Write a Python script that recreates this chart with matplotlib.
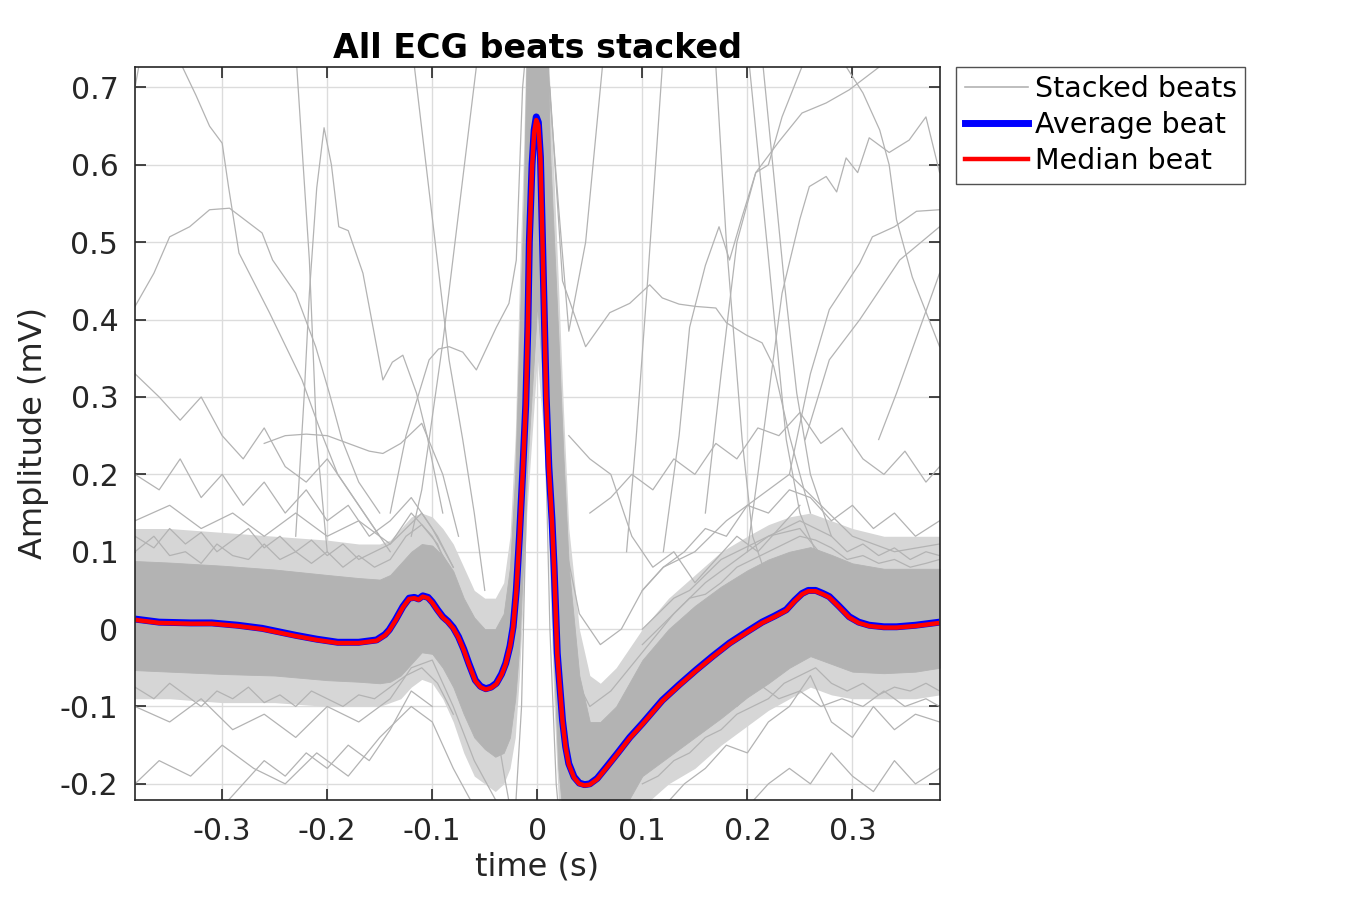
import numpy as np
import matplotlib.pyplot as plt
from matplotlib.lines import Line2D

# average and median beat (time in s, amplitude in mV)
avg_t = [-0.383, -0.36, -0.33, -0.31, -0.285, -0.262, -0.23, -0.21, -0.19, -0.17,
         -0.153, -0.145, -0.141, -0.135, -0.128, -0.122, -0.117, -0.113, -0.109, -0.104,
         -0.1, -0.095, -0.09, -0.085, -0.08, -0.075, -0.07, -0.065, -0.059, -0.054,
         -0.049, -0.044, -0.039, -0.034, -0.03, -0.026, -0.023, -0.02, -0.017, -0.014,
         -0.011, -0.009, -0.0076, -0.005, -0.003, -0.001, 0.001, 0.003, 0.005, 0.0085,
         0.011, 0.014, 0.016, 0.019, 0.024, 0.027, 0.03, 0.035, 0.04, 0.045,
         0.05, 0.057, 0.066, 0.076, 0.088, 0.1, 0.119, 0.135, 0.151, 0.167,
         0.183, 0.2, 0.214, 0.226, 0.237, 0.245, 0.252, 0.258, 0.265, 0.272,
         0.278, 0.287, 0.297, 0.306, 0.316, 0.33, 0.342, 0.36, 0.383]
avg_v = [0.013, 0.009, 0.008, 0.008, 0.005, 0.001, -0.008, -0.013, -0.017, -0.017,
         -0.014, -0.007, -0.001, 0.012, 0.029, 0.040, 0.041, 0.039, 0.043, 0.041,
         0.035, 0.025, 0.016, 0.010, 0.002, -0.010, -0.026, -0.045, -0.066, -0.074,
         -0.077, -0.075, -0.070, -0.058, -0.044, -0.022, 0.003, 0.05, 0.12, 0.2,
         0.29, 0.39, 0.5, 0.6, 0.645, 0.662, 0.655, 0.61, 0.5, 0.3,
         0.21, 0.141, 0.08, -0.031, -0.118, -0.152, -0.174, -0.191, -0.199, -0.201,
         -0.2, -0.193, -0.178, -0.161, -0.14, -0.122, -0.092, -0.072, -0.053, -0.035,
         -0.018, -0.003, 0.009, 0.017, 0.025, 0.037, 0.046, 0.05, 0.05, 0.046,
         0.042, 0.03, 0.016, 0.009, 0.005, 0.003, 0.003, 0.005, 0.009]
med_v = [0.012, 0.008, 0.007, 0.007, 0.004, 0.0, -0.009, -0.014, -0.018, -0.018,
         -0.015, -0.008, -0.002, 0.011, 0.028, 0.039, 0.040, 0.038, 0.042, 0.040,
         0.034, 0.024, 0.015, 0.009, 0.001, -0.011, -0.027, -0.046, -0.067, -0.075,
         -0.078, -0.076, -0.071, -0.059, -0.045, -0.023, 0.002, 0.048, 0.118, 0.198,
         0.288, 0.388, 0.498, 0.597, 0.642, 0.658, 0.651, 0.607, 0.497, 0.298,
         0.208, 0.139, 0.079, -0.032, -0.119, -0.153, -0.175, -0.192, -0.2, -0.202,
         -0.201, -0.194, -0.179, -0.162, -0.141, -0.123, -0.093, -0.073, -0.054, -0.036,
         -0.019, -0.004, 0.008, 0.016, 0.024, 0.036, 0.045, 0.049, 0.049, 0.045,
         0.041, 0.029, 0.015, 0.008, 0.004, 0.002, 0.002, 0.004, 0.008]

# dense core of the stacked beats (upper / lower edge) and its looser fringe
band_t = [-0.383, -0.35, -0.3, -0.25, -0.2, -0.17, -0.15, -0.14, -0.13, -0.12,
          -0.11, -0.1, -0.09, -0.08, -0.07, -0.06, -0.05, -0.04, -0.032, -0.026,
          -0.021, -0.017, -0.013, -0.01, 0.0, 0.009, 0.012, 0.016, 0.02, 0.025,
          0.03, 0.04, 0.05, 0.06, 0.075, 0.1, 0.125, 0.15, 0.175, 0.2,
          0.22, 0.24, 0.26, 0.28, 0.3, 0.33, 0.36, 0.383]
band_hi = [0.088, 0.086, 0.082, 0.077, 0.07, 0.066, 0.064, 0.07, 0.085, 0.1,
           0.11, 0.108, 0.095, 0.075, 0.04, 0.015, 0.0, 0.0, 0.02, 0.08,
           0.2, 0.38, 0.55, 0.75, 0.8, 0.8, 0.62, 0.5, 0.38, 0.22,
           0.08, -0.06, -0.12, -0.12, -0.1, -0.04, 0.0, 0.03, 0.055, 0.076,
           0.09, 0.1, 0.106, 0.096, 0.085, 0.078, 0.078, 0.078]
band_lo = [-0.053, -0.055, -0.058, -0.06, -0.066, -0.068, -0.07, -0.068, -0.06, -0.045,
           -0.03, -0.032, -0.05, -0.075, -0.11, -0.14, -0.155, -0.165, -0.16, -0.14,
           -0.09, -0.02, 0.1, 0.2, 0.42, 0.25, 0.1, -0.05, -0.18, -0.25,
           -0.25, -0.25, -0.25, -0.25, -0.25, -0.19, -0.165, -0.14, -0.115, -0.088,
           -0.07, -0.05, -0.035, -0.045, -0.055, -0.057, -0.055, -0.05]
fringe_hi = [0.13, 0.13, 0.125, 0.12, 0.115, 0.11, 0.11, 0.115, 0.13, 0.145,
             0.15, 0.145, 0.13, 0.11, 0.08, 0.05, 0.04, 0.04, 0.06, 0.12,
             0.25, 0.45, 0.62, 0.8, 0.8, 0.8, 0.7, 0.58, 0.45, 0.28,
             0.13, 0.0, -0.06, -0.07, -0.05, 0.0, 0.04, 0.07, 0.1, 0.12,
             0.135, 0.145, 0.15, 0.14, 0.13, 0.12, 0.12, 0.12]
fringe_lo = [-0.09, -0.09, -0.095, -0.095, -0.1, -0.1, -0.1, -0.095, -0.09, -0.075,
             -0.065, -0.07, -0.09, -0.12, -0.16, -0.19, -0.2, -0.21, -0.2, -0.18,
             -0.14, -0.06, 0.05, 0.15, 0.35, 0.2, 0.05, -0.1, -0.22, -0.25,
             -0.25, -0.25, -0.25, -0.25, -0.25, -0.23, -0.2, -0.18, -0.15, -0.125,
             -0.105, -0.09, -0.075, -0.085, -0.09, -0.09, -0.09, -0.085]

# individual stacked beats that stray outside the core
outlier_t = [
    [-0.383, -0.375],
    [-0.345, -0.338, -0.325, -0.312, -0.30, -0.294, -0.284, -0.255, -0.224, -0.208, -0.19, -0.17, -0.15],
    [-0.383, -0.365, -0.35, -0.331, -0.312, -0.293, -0.262, -0.252, -0.23, -0.211, -0.198, -0.186, -0.17, -0.15],
    [-0.23, -0.222, -0.217, -0.21, -0.203, -0.196, -0.189, -0.18, -0.166, -0.147, -0.138, -0.128, -0.115, -0.105, -0.09],
    [-0.232, -0.229, -0.217, -0.21, -0.2],
    [-0.12, -0.117, -0.084, -0.071, -0.06, -0.05],
    [-0.12, -0.11, -0.103, -0.09, -0.058, -0.055],
    [-0.14, -0.125, -0.103, -0.094, -0.084, -0.071, -0.058, -0.039, -0.027, -0.02, -0.014, -0.01],
    [-0.005, 0.0, 0.01, 0.02, 0.03, 0.046, 0.062, 0.066],
    [-0.006, 0.0, 0.012, 0.024, 0.046, 0.069, 0.088, 0.107, 0.119, 0.135, 0.151, 0.17, 0.18, 0.199, 0.214, 0.225, 0.24, 0.26],
    [0.085, 0.094, 0.105, 0.119, 0.125],
    [0.165, 0.17, 0.18, 0.195, 0.205, 0.215],
    [0.12, 0.135, 0.145, 0.16, 0.173, 0.183, 0.195, 0.208, 0.22, 0.233, 0.252, 0.26],
    [0.198, 0.202, 0.22, 0.237, 0.25, 0.265],
    [0.21, 0.215, 0.235, 0.247, 0.26, 0.28],
    [0.2, 0.215, 0.233, 0.25, 0.259, 0.275, 0.285, 0.294, 0.305, 0.316, 0.335, 0.354, 0.37, 0.383],
    [0.29, 0.294, 0.31, 0.326, 0.335, 0.342, 0.357, 0.383],
    [0.16, 0.175, 0.19, 0.208, 0.23, 0.252, 0.275, 0.297, 0.326, 0.335],
    [0.24, 0.26, 0.278, 0.307, 0.319, 0.34, 0.361, 0.383],
    [0.255, 0.278, 0.307, 0.345, 0.383],
    [0.325, 0.342, 0.383],
    [-0.383, -0.36, -0.34, -0.32, -0.3, -0.28, -0.26, -0.24, -0.22, -0.2, -0.18, -0.16, -0.14],
    [-0.383, -0.36, -0.34, -0.32, -0.3, -0.28, -0.26, -0.24, -0.22, -0.2, -0.18, -0.16, -0.14, -0.12, -0.1, -0.08],
    [-0.26, -0.24, -0.22, -0.2, -0.18, -0.16, -0.147, -0.13, -0.11, -0.09, -0.075],
    [-0.383, -0.35, -0.32, -0.29, -0.26, -0.23, -0.2, -0.17, -0.14, -0.12, -0.1, -0.08],
    [0.05, 0.07, 0.09, 0.11, 0.13, 0.15, 0.17, 0.19, 0.21, 0.23, 0.25, 0.27, 0.29, 0.31, 0.33, 0.35, 0.37, 0.383],
    [0.1, 0.12, 0.14, 0.16, 0.18, 0.2, 0.22, 0.24, 0.26, 0.28, 0.3, 0.32, 0.34, 0.36, 0.383],
    [0.03, 0.05, 0.07, 0.09, 0.11, 0.13, 0.15, 0.17, 0.19, 0.21, 0.23, 0.25],
    [0.015, 0.025, 0.035, 0.05, 0.07, 0.1, 0.13, 0.16, 0.19, 0.22, 0.25, 0.28, 0.31, 0.34, 0.383],
    [0.015, 0.025, 0.04, 0.06, 0.08, 0.1, 0.12, 0.15, 0.18, 0.21, 0.24, 0.27, 0.3, 0.34, 0.383],
    [-0.383, -0.35, -0.32, -0.29, -0.26, -0.23, -0.2, -0.17, -0.14, -0.12, -0.1, -0.08, -0.06, -0.04, -0.025],
    [-0.383, -0.36, -0.33, -0.3, -0.27, -0.24, -0.21, -0.18, -0.15, -0.12, -0.1, -0.08, -0.06],
    [-0.3, -0.28, -0.26, -0.24, -0.22, -0.2, -0.18, -0.16, -0.14, -0.12, -0.1],
    [0.12, 0.14, 0.16, 0.18, 0.2, 0.22, 0.24, 0.26, 0.28, 0.3, 0.32, 0.34, 0.36, 0.383],
    [0.2, 0.22, 0.24, 0.26, 0.28, 0.3, 0.32, 0.34, 0.36, 0.383],
    [0.15, 0.17, 0.19, 0.21, 0.23, 0.25, 0.27, 0.29, 0.31, 0.33, 0.35, 0.37, 0.383],
    [-0.06, -0.04, -0.03, -0.022, -0.015, -0.008, 0.0],
    [-0.005, 0.005, 0.012, 0.018, 0.022, 0.03],
    [-0.383, -0.365, -0.35, -0.335, -0.32, -0.305, -0.29, -0.275, -0.26, -0.245, -0.23,
     -0.215, -0.2, -0.185, -0.17, -0.155, -0.14, -0.125, -0.11, -0.095, -0.08],
    [-0.383, -0.365, -0.35, -0.335, -0.32, -0.305, -0.29, -0.275, -0.26, -0.245, -0.23,
     -0.215, -0.2, -0.185, -0.17, -0.155, -0.14, -0.125, -0.11, -0.095, -0.08],
    [-0.383, -0.365, -0.35, -0.335, -0.32, -0.305, -0.29, -0.275, -0.26, -0.245, -0.23,
     -0.215, -0.2, -0.185, -0.17, -0.155, -0.14, -0.125, -0.11, -0.095, -0.08],
    [0.1, 0.115, 0.13, 0.145, 0.16, 0.175, 0.19, 0.205, 0.22, 0.235,
     0.25, 0.265, 0.28, 0.295, 0.31, 0.325, 0.34, 0.355, 0.37, 0.383],
    [0.1, 0.115, 0.13, 0.145, 0.16, 0.175, 0.19, 0.205, 0.22, 0.235,
     0.25, 0.265, 0.28, 0.295, 0.31, 0.325, 0.34, 0.355, 0.37, 0.383],
    [0.1, 0.115, 0.13, 0.145, 0.16, 0.175, 0.19, 0.205, 0.22, 0.235,
     0.25, 0.265, 0.28, 0.295, 0.31, 0.325, 0.34, 0.355, 0.37, 0.383],
]
outlier_v = [
    [0.70, 0.76],
    [0.76, 0.727, 0.69, 0.65, 0.628, 0.572, 0.486, 0.409, 0.322, 0.262, 0.2, 0.16, 0.12],
    [0.417, 0.46, 0.507, 0.52, 0.542, 0.544, 0.512, 0.477, 0.434, 0.365, 0.305, 0.245, 0.19, 0.15],
    [0.12, 0.3, 0.434, 0.57, 0.648, 0.6, 0.52, 0.515, 0.46, 0.322, 0.345, 0.354, 0.305, 0.25, 0.15],
    [0.76, 0.727, 0.477, 0.245, 0.1],
    [0.76, 0.727, 0.348, 0.245, 0.15, 0.05],
    [0.12, 0.18, 0.245, 0.37, 0.727, 0.76],
    [0.15, 0.25, 0.348, 0.362, 0.365, 0.358, 0.335, 0.39, 0.421, 0.477, 0.7, 0.76],
    [0.5, 0.76, 0.727, 0.55, 0.385, 0.5, 0.727, 0.76],
    [0.45, 0.76, 0.7, 0.45, 0.365, 0.409, 0.421, 0.445, 0.428, 0.42, 0.417, 0.415, 0.396, 0.38, 0.37, 0.34, 0.25, 0.15],
    [0.1, 0.245, 0.45, 0.727, 0.8],
    [0.8, 0.727, 0.5, 0.245, 0.12, 0.08],
    [0.1, 0.25, 0.39, 0.47, 0.52, 0.477, 0.533, 0.59, 0.6, 0.662, 0.727, 0.76],
    [0.76, 0.727, 0.48, 0.245, 0.15, 0.1],
    [0.76, 0.727, 0.45, 0.305, 0.2, 0.12],
    [0.1, 0.25, 0.434, 0.53, 0.572, 0.585, 0.565, 0.609, 0.59, 0.635, 0.616, 0.632, 0.662, 0.59],
    [0.76, 0.727, 0.693, 0.645, 0.6, 0.529, 0.455, 0.365],
    [0.15, 0.33, 0.5, 0.59, 0.63, 0.667, 0.68, 0.697, 0.727, 0.76],
    [0.2, 0.33, 0.413, 0.473, 0.507, 0.52, 0.54, 0.542],
    [0.245, 0.348, 0.4, 0.477, 0.52],
    [0.245, 0.305, 0.46],
    [0.33, 0.3, 0.27, 0.3, 0.25, 0.22, 0.26, 0.21, 0.19, 0.22, 0.18, 0.14, 0.1],
    [0.2, 0.18, 0.22, 0.17, 0.2, 0.16, 0.19, 0.15, 0.18, 0.14, 0.16, 0.12, 0.14, 0.17, 0.13, 0.08],
    [0.24, 0.25, 0.252, 0.25, 0.24, 0.23, 0.227, 0.24, 0.266, 0.2, 0.12],
    [0.14, 0.16, 0.13, 0.15, 0.12, 0.15, 0.12, 0.14, 0.11, 0.15, 0.12, 0.07],
    [0.15, 0.17, 0.2, 0.18, 0.22, 0.2, 0.24, 0.22, 0.26, 0.25, 0.28, 0.24, 0.26, 0.22, 0.2, 0.23, 0.19, 0.21],
    [0.05, 0.08, 0.1, 0.13, 0.12, 0.16, 0.15, 0.18, 0.17, 0.14, 0.16, 0.13, 0.15, 0.12, 0.14],
    [0.25, 0.22, 0.2, 0.12, 0.08, 0.1, 0.06, 0.09, 0.12, 0.1, 0.13, 0.16],
    [0.3, 0.05, -0.06, -0.1, -0.08, -0.03, 0.02, 0.06, 0.09, 0.12, 0.13, 0.08, 0.06, 0.07, 0.05],
    [0.35, 0.12, 0.02, -0.02, 0.0, 0.05, 0.08, 0.1, 0.14, 0.17, 0.2, 0.16, 0.12, 0.1, 0.11],
    [-0.1, -0.12, -0.09, -0.13, -0.11, -0.14, -0.1, -0.12, -0.09, -0.05, -0.04, -0.1, -0.17, -0.22, -0.25],
    [-0.2, -0.17, -0.19, -0.15, -0.18, -0.2, -0.16, -0.19, -0.14, -0.1, -0.12, -0.18, -0.23],
    [-0.23, -0.2, -0.17, -0.19, -0.16, -0.18, -0.15, -0.17, -0.13, -0.08, -0.1],
    [-0.23, -0.2, -0.18, -0.15, -0.16, -0.12, -0.1, -0.06, -0.12, -0.14, -0.1, -0.13, -0.11, -0.12],
    [-0.23, -0.2, -0.18, -0.2, -0.16, -0.19, -0.21, -0.17, -0.2, -0.18],
    [-0.1, -0.08, -0.1, -0.07, -0.09, -0.08, -0.1, -0.09, -0.1, -0.08, -0.1, -0.09, -0.1],
    [-0.05, -0.12, -0.2, -0.26, -0.1, 0.3, 0.76],
    [0.76, 0.4, 0.0, -0.2, -0.26, -0.3],
    [0.12, 0.105, 0.13, 0.11, 0.125, 0.1, 0.115, 0.13, 0.105, 0.12, 0.1,
     0.115, 0.095, 0.11, 0.09, 0.1, 0.11, 0.13, 0.15, 0.12, 0.08],
    [0.1, 0.12, 0.095, 0.1, 0.085, 0.11, 0.095, 0.09, 0.11, 0.09, 0.1,
     0.085, 0.1, 0.08, 0.095, 0.08, 0.09, 0.12, 0.135, 0.11, 0.06],
    [-0.075, -0.09, -0.07, -0.085, -0.1, -0.08, -0.09, -0.075, -0.095, -0.085, -0.1,
     -0.08, -0.09, -0.1, -0.085, -0.09, -0.075, -0.06, -0.05, -0.07, -0.11],
    [0.0, 0.02, 0.04, 0.05, 0.07, 0.09, 0.1, 0.11, 0.12, 0.13,
     0.14, 0.13, 0.12, 0.1, 0.11, 0.095, 0.105, 0.09, 0.1, 0.095],
    [-0.2, -0.19, -0.17, -0.16, -0.14, -0.13, -0.11, -0.1, -0.09, -0.07,
     -0.06, -0.05, -0.07, -0.08, -0.07, -0.085, -0.075, -0.08, -0.07, -0.08],
    [-0.02, 0.0, 0.02, 0.04, 0.045, 0.06, 0.08, 0.09, 0.1, 0.11,
     0.12, 0.115, 0.105, 0.09, 0.095, 0.085, 0.09, 0.08, 0.085, 0.09],
]

x_ticks = [-0.3, -0.2, -0.1, 0, 0.1, 0.2, 0.3]
x_labels = ['-0.3', '-0.2', '-0.1', '0', '0.1', '0.2', '0.3']
y_ticks = [-0.2, -0.1, 0, 0.1, 0.2, 0.3, 0.4, 0.5, 0.6, 0.7]
y_labels = ['-0.2', '-0.1', '0', '0.1', '0.2', '0.3', '0.4', '0.5', '0.6', '0.7']

grey = '#b3b3b3'
ink = '#262626'

fig = plt.figure(figsize=(13.5, 9), dpi=100)
ax = fig.add_axes([0.1, 0.111, 0.596, 0.815])

ax.fill_between(band_t, fringe_lo, fringe_hi, color='#d6d6d6', lw=0, zorder=1.5)
ax.fill_between(band_t, band_lo, band_hi, color=grey, lw=0.6, zorder=2)
for t, v in zip(outlier_t, outlier_v):
    ax.plot(t, v, color=grey, lw=0.9, zorder=2)
ax.plot(avg_t, avg_v, color='#0000ff', lw=5, zorder=3, solid_capstyle='butt')
ax.plot(avg_t, med_v, color='#ff0000', lw=3.2, zorder=4, solid_capstyle='butt')

ax.set_xlim(-0.383, 0.383)
ax.set_ylim(-0.221, 0.727)
ax.set_xticks(x_ticks)
ax.set_xticklabels(x_labels)
ax.set_yticks(y_ticks)
ax.set_yticklabels(y_labels)
ax.grid(True, color='#dcdcdc', lw=1.0, zorder=0)
ax.set_axisbelow(True)
ax.tick_params(direction='in', length=8, width=1.2, colors=ink, labelsize=21.5,
               top=True, right=True, pad=12)
for s in ax.spines.values():
    s.set_color(ink)
    s.set_linewidth(1.2)
    s.set_zorder(5)

ax.set_xlabel('time (s)', fontsize=23, color=ink, labelpad=4)
ax.set_ylabel('Amplitude (mV)', fontsize=23, color=ink, labelpad=8)
ax.set_title('All ECG beats stacked', fontsize=24, fontweight='bold', pad=6)

handles = [Line2D([], [], color=grey, lw=1.2),
           Line2D([], [], color='#0000ff', lw=5),
           Line2D([], [], color='#ff0000', lw=3.2)]
leg = ax.legend(handles, ['Stacked beats', 'Average beat', 'Median beat'],
                loc='upper left', bbox_to_anchor=(1.021, 1.0), borderaxespad=0,
                fontsize=20.5, frameon=True, fancybox=False, handlelength=2.2,
                handletextpad=0.25, borderpad=0.3, labelspacing=0.28)
leg.get_frame().set_edgecolor(ink)
leg.get_frame().set_linewidth(1.0)

fig.savefig('out.png', dpi=100)
